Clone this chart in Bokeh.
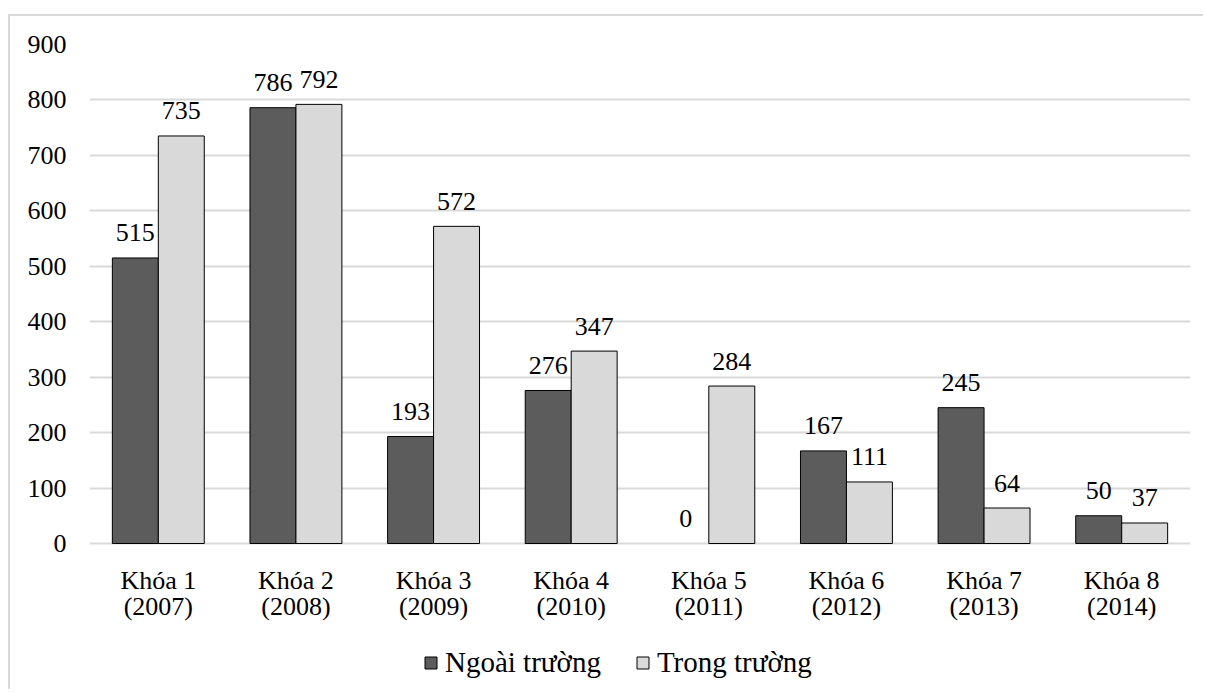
from bokeh.plotting import figure
from bokeh.models import (ColumnDataSource, Range1d, FactorRange, Legend, LegendItem, LabelSet,
                          FixedTicker)
from bokeh.transform import dodge
from bokeh.core.properties import value
from bokeh.embed import file_html
from bokeh.resources import INLINE

categories = ["Khóa 1", "Khóa 2", "Khóa 3", "Khóa 4", "Khóa 5", "Khóa 6", "Khóa 7", "Khóa 8"]
years = ["(2007)", "(2008)", "(2009)", "(2010)", "(2011)", "(2012)", "(2013)", "(2014)"]
ngoai = [515, 786, 193, 276, 0, 167, 245, 50]
trong = [735, 792, 572, 347, 284, 111, 64, 37]
series_names = ["Ngoài trường", "Trong trường"]
y_ticks = [0, 100, 200, 300, 400, 500, 600, 700, 800, 900]

FONT = "'Liberation Serif'"
PX_PER_UNIT = 499 / 900          # frame scale: 900 units over 499 px
BELOW_PX = 148                   # space under the zero line kept inside the frame

src = ColumnDataSource(dict(cat=categories, yr=years, zero=[0] * len(categories),
                            ngoai=ngoai, trong=trong,
                            ngoai_line=["black" if v > 0 else None for v in ngoai],
                            trong_line=["black" if v > 0 else None for v in trong],
                            ngoai_lbl=[str(v) for v in ngoai],
                            trong_lbl=[str(v) for v in trong]))

p = figure(x_range=FactorRange(*categories), y_range=Range1d(-BELOW_PX / PX_PER_UNIT, 900),
           width=1195, height=675, output_backend="svg", toolbar_location=None,
           min_border_left=79, min_border_right=15, min_border_top=28, min_border_bottom=0)
p.styles = {"margin-top": "14px", "margin-left": "8px",
            "border-top": "2px solid #d9d9d9", "border-left": "2px solid #d9d9d9"}
p.x_range.range_padding = 0
p.outline_line_color = None
p.background_fill_color = "white"
p.border_fill_color = "white"

w = 0.334
r1 = p.vbar(x=dodge("cat", -0.167, range=p.x_range), top="ngoai", width=w, source=src,
            fill_color="#5c5c5c", line_color="ngoai_line", line_width=1)
r2 = p.vbar(x=dodge("cat", 0.167, range=p.x_range), top="trong", width=w, source=src,
            fill_color="#d9d9d9", line_color="trong_line", line_width=1)

for col, ycol, off in (("ngoai_lbl", "ngoai", -0.167), ("trong_lbl", "trong", 0.167)):
    p.add_layout(LabelSet(x=dodge("cat", off, range=p.x_range), y=ycol, text=col, source=src,
                          text_align="center", text_baseline="middle", y_offset=25,
                          text_font=value(FONT), text_font_size="26px", text_color="black"))

# two-line category labels
p.add_layout(LabelSet(x="cat", y="zero", text="cat", source=src, text_align="center",
                      text_baseline="middle", y_offset=-37,
                      text_font=value(FONT), text_font_size="26px", text_color="black"))
p.add_layout(LabelSet(x="cat", y="zero", text="yr", source=src, text_align="center",
                      text_baseline="middle", y_offset=-63,
                      text_font=value(FONT), text_font_size="26px", text_color="black"))

p.xaxis.visible = False
p.xgrid.grid_line_color = None
p.ygrid.ticker = FixedTicker(ticks=y_ticks)
p.ygrid.grid_line_color = "#d9d9d9"
p.ygrid.grid_line_width = 2
p.yaxis.ticker = FixedTicker(ticks=y_ticks)
p.yaxis.axis_line_color = None
p.yaxis.major_tick_line_color = None
p.yaxis.minor_tick_line_color = None
p.yaxis.major_tick_out = 0
p.yaxis.major_tick_in = 0
p.yaxis.major_label_standoff = 23
p.yaxis.major_label_text_font = FONT
p.yaxis.major_label_text_font_size = "26px"
p.yaxis.major_label_text_color = "black"

legend = Legend(items=[LegendItem(label=series_names[0], renderers=[r1]),
                       LegendItem(label=series_names[1], renderers=[r2])],
                orientation="horizontal", location=(334, 12),
                label_text_font=FONT, label_text_font_size="29px", label_text_color="black",
                glyph_width=15, glyph_height=15, spacing=34, padding=0, margin=0,
                label_standoff=7, border_line_color=None, background_fill_alpha=0)
p.add_layout(legend, "center")

open("out.html", "w").write(file_html(p, INLINE))
